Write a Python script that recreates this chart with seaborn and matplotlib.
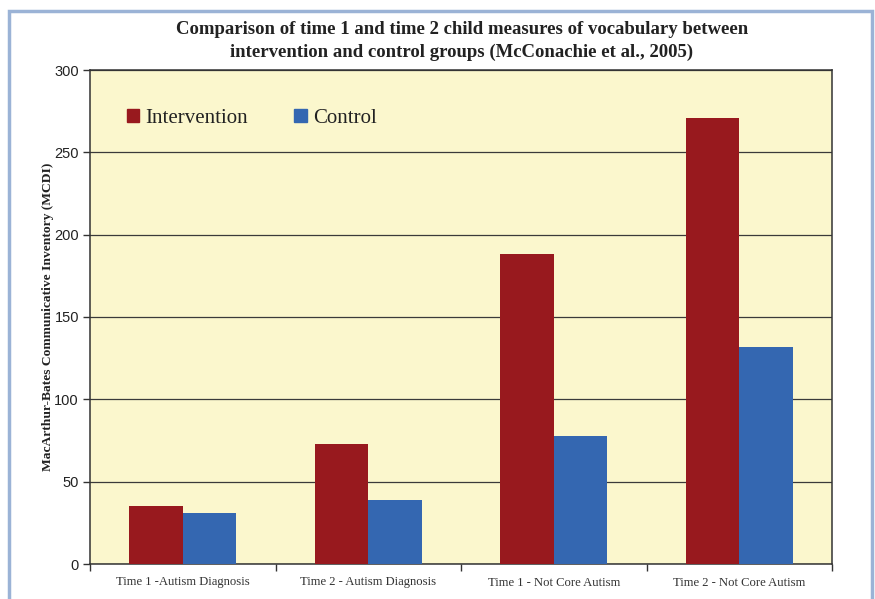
import matplotlib
matplotlib.use("Agg")
import matplotlib.pyplot as plt
import matplotlib.patches as mpatches
from matplotlib.ticker import FixedLocator, NullFormatter
import seaborn as sns
import pandas as pd

# Chart data
categories = ["Time 1 -Autism Diagnosis", "Time 2 - Autism Diagnosis",
              "Time 1 - Not Core Autism", "Time 2 - Not Core Autism"]
intervention = [35, 73, 188, 271]
control = [31, 39, 78, 132]
groups = ["Intervention", "Control"]
yticks = [0, 50, 100, 150, 200, 250, 300]

df = pd.DataFrame({
    "category": categories * 2,
    "group": [groups[0]] * len(categories) + [groups[1]] * len(categories),
    "value": intervention + control,
})

sns.set_theme(style="white")
plt.rcParams["font.family"] = ["Liberation Serif", "DejaVu Serif"]

fig = plt.figure(figsize=(8.75, 5.99), dpi=100)
ax = fig.add_axes([90 / 875, 1 - 564 / 599, (832 - 90) / 875, (564 - 70) / 599])
ax.set_facecolor("#fbf7cd")

palette = {"Intervention": "#98191e", "Control": "#3467b1"}
sns.barplot(data=df, x="category", y="value", hue="group", palette=palette,
            width=0.575, saturation=1, ax=ax, legend=False, zorder=3,
            linewidth=0, edgecolor="none")

ax.set_ylim(0, 300)
ax.set_xlim(-0.5, len(categories) - 0.5)
ax.set_yticks(yticks)
ax.set_yticklabels([str(t) for t in yticks], family="Liberation Sans",
                   fontsize=10.5, color="#222222")
ax.yaxis.grid(True, color="#3a3a3a", linewidth=0.9, zorder=0)
ax.set_axisbelow(True)

# category separators on the x axis
ax.tick_params(axis="x", which="major", length=0, pad=9, labelsize=9.1,
               labelcolor="#333333")
ax.xaxis.set_minor_locator(FixedLocator([i - 0.5 for i in range(len(categories) + 1)]))
ax.xaxis.set_minor_formatter(NullFormatter())
ax.tick_params(axis="x", which="minor", length=5, width=1, color="#333333",
               bottom=True)
ax.tick_params(axis="y", which="major", length=5, width=1, color="#333333",
               left=True, pad=3)
for s in ax.spines.values():
    s.set_color("#333333")
    s.set_linewidth(1.1)

ax.set_xlabel("")
ax.set_ylabel("MacArthur-Bates Communicative Inventory (MCDI)", fontsize=9.7,
              fontweight="bold", color="#222222", labelpad=0)
ax.yaxis.set_label_coords(-36 / 742, 0.5)

handles = [mpatches.Patch(color=palette[g], label=g) for g in groups]
ax.legend(handles=handles, loc="upper left", bbox_to_anchor=(0.024, 0.96),
          ncol=2, frameon=False, fontsize=15, handlelength=0.62,
          handleheight=0.62, handletextpad=0.3, columnspacing=2.2,
          labelcolor="#222222")

fig.text(462 / 875, 1 - 41 / 599,
         "Comparison of time 1 and time 2 child measures of vocabulary between\n"
         "intervention and control groups (McConachie et al., 2005)",
         ha="center", va="center", fontsize=13.5, fontweight="bold",
         color="#222222", linespacing=1.45)

# outer frame
fig.patches.append(mpatches.Rectangle((9 / 875, -0.05), (872 - 9) / 875, 1.05 - 11 / 599,
                                      transform=fig.transFigure, fill=False,
                                      edgecolor="#9bb3d6", linewidth=2.5))

fig.savefig("out.png", dpi=100, facecolor="white")
